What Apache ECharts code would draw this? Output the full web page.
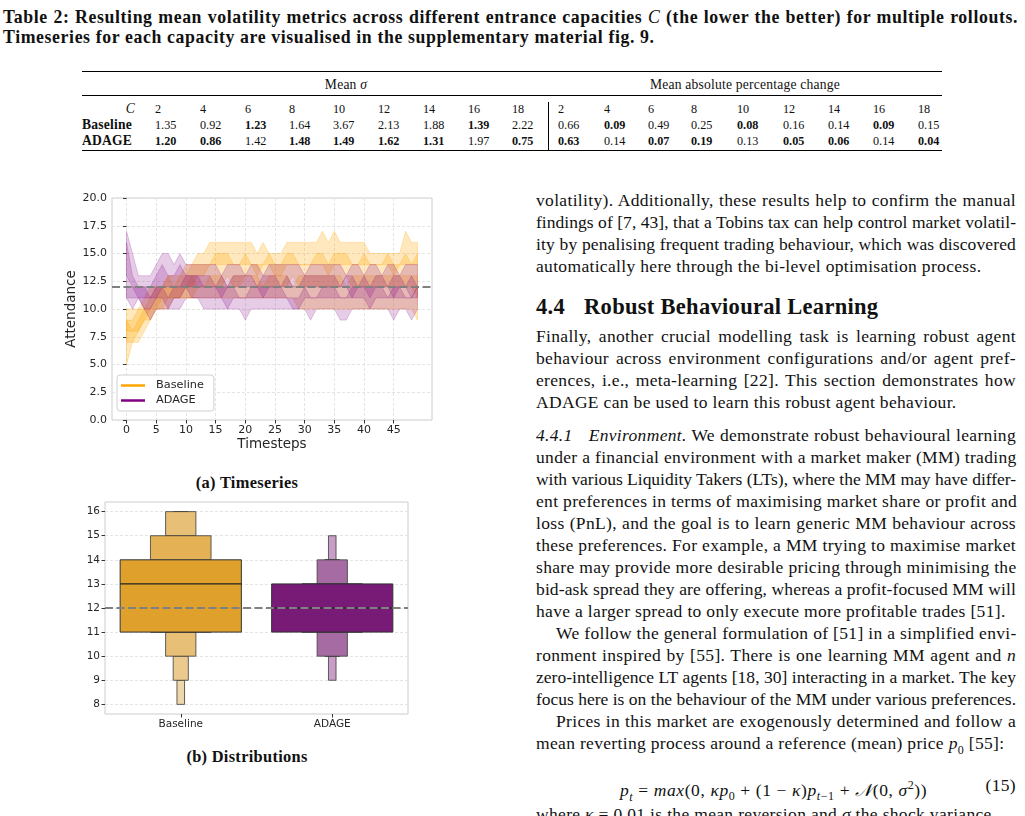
<!DOCTYPE html>
<html>
<head>
<meta charset="utf-8">
<script src="https://cdn.jsdelivr.net/npm/echarts@6/dist/echarts.min.js"></script>
<style>
  body { margin: 0; width: 1025px; height: 816px; overflow: hidden; background: #fff; position: relative;
         font-family: "Liberation Serif", "DejaVu Serif", serif; color: #111; }
  .cap { position: absolute; left: 3px; font-weight: bold; font-size: 17.8px; letter-spacing: 0.6px; line-height: 20px; white-space: nowrap; }
  .j { text-align: justify; text-align-last: justify; }
  .tl { position: absolute; left: 536px; width: 480px; font-size: 17.5px; letter-spacing: 0.33px; line-height: 22px; white-space: nowrap; }
  .ind { left: 556px; width: 460px; }
  .cell { position: absolute; font-size: 12.2px; line-height: 16px; white-space: nowrap; }
  .hd { font-size: 13.6px; letter-spacing: 0.2px; }
  .rule { position: absolute; left: 82px; width: 860px; background: #000; }
  .sub { position: absolute; width: 300px; text-align: center; font-weight: bold; font-size: 16.4px; letter-spacing: 0.3px; line-height: 20px; }
  .sp { display: inline-block; }
</style>
</head>
<body>
<div class="cap j" style="top:7px;width:1015px">Table 2: Resulting mean volatility metrics across different entrance capacities <i style="font-weight:normal">C</i> (the lower the better) for multiple rollouts.</div>
<div class="cap" style="top:27px">Timeseries for each capacity are visualised in the supplementary material fig. 9.</div>

<div class="rule" style="top:71px;height:1.3px"></div>
<div class="rule" style="top:95px;height:0.8px"></div>
<div class="rule" style="top:150px;height:1.3px"></div>
<div style="position:absolute;left:548px;top:102px;width:1px;height:48px;background:#000"></div>
<div class="cell hd" style="left:246px;width:200px;text-align:center;top:77px">Mean <i>σ</i></div>
<div class="cell hd" style="left:595px;width:300px;text-align:center;top:77px">Mean absolute percentage change</div>
<div id="tbl"></div>

<div id="ts" style="position:absolute;left:0;top:180px;width:450px;height:285px"></div>
<div class="sub" style="left:97px;top:473px">(a) Timeseries</div>
<div id="bx" style="position:absolute;left:0;top:495px;width:450px;height:240px"></div>
<div class="sub" style="left:97px;top:747px">(b) Distributions</div>

<div class="tl j" style="top:189px">volatility). Additionally, these results help to confirm the manual</div>
<div class="tl j" style="top:211px">findings of [7, 43], that a Tobins tax can help control market volatil-</div>
<div class="tl j" style="top:233px">ity by penalising frequent trading behaviour, which was discovered</div>
<div class="tl" style="top:255px">automatically here through the bi-level optimisation process.</div>
<div class="tl" style="top:294px;font-size:22.5px;letter-spacing:0.3px;line-height:26px;font-weight:bold">4.4<span class="sp" style="width:19px"></span>Robust Behavioural Learning</div>
<div class="tl j" style="top:325px">Finally, another crucial modelling task is learning robust agent</div>
<div class="tl j" style="top:347px">behaviour across environment configurations and/or agent pref-</div>
<div class="tl j" style="top:369px">erences, i.e., meta-learning [22]. This section demonstrates how</div>
<div class="tl" style="top:391px">ADAGE can be used to learn this robust agent behaviour.</div>
<div class="tl j" style="top:424px"><i>4.4.1</i><span class="sp" style="width:16px"></span><i>Environment.</i> We demonstrate robust behavioural learning</div>
<div class="tl j" style="top:446px">under a financial environment with a market maker (MM) trading</div>
<div class="tl j" style="top:468px">with various Liquidity Takers (LTs), where the MM may have differ-</div>
<div class="tl j" style="top:490px">ent preferences in terms of maximising market share or profit and</div>
<div class="tl j" style="top:512px">loss (PnL), and the goal is to learn generic MM behaviour across</div>
<div class="tl j" style="top:534px">these preferences. For example, a MM trying to maximise market</div>
<div class="tl j" style="top:556px">share may provide more desirable pricing through minimising the</div>
<div class="tl j" style="top:578px">bid-ask spread they are offering, whereas a profit-focused MM will</div>
<div class="tl" style="top:600px">have a larger spread to only execute more profitable trades [51].</div>
<div class="tl ind j" style="top:622px">We follow the general formulation of [51] in a simplified envi-</div>
<div class="tl j" style="top:644px">ronment inspired by [55]. There is one learning MM agent and <i>n</i></div>
<div class="tl j" style="top:666px">zero-intelligence LT agents [18, 30] interacting in a market. The key</div>
<div class="tl j" style="top:688px">focus here is on the behaviour of the MM under various preferences.</div>
<div class="tl ind j" style="top:710px">Prices in this market are exogenously determined and follow a</div>
<div class="tl" style="top:732px">mean reverting process around a reference (mean) price <i>p</i><sub style="font-size:12px">0</sub> [55]:</div>
<div class="tl" style="top:774px;left:620px;width:auto;letter-spacing:0.6px"><i>p<sub style="font-size:12px">t</sub></i> = <i>max</i>(0, <i>κp</i><sub style="font-size:12px">0</sub> + (1 − <i>κ</i>)<i>p</i><sub style="font-size:12px"><i>t</i>−1</sub> + <i>𝒩</i>(0, <i>σ</i><sup style="font-size:12px">2</sup>))</div>
<div class="tl" style="top:774px;text-align:right">(15)</div>
<div class="tl" style="top:803px">where <i>κ</i> = 0.01 is the mean reversion and <i>σ</i> the shock variance.</div>

<script>
// ---- table values ----
const capacities = [2, 4, 6, 8, 10, 12, 14, 16, 18];
const sigmaBaseline = [1.35, 0.92, 1.23, 1.64, 3.67, 2.13, 1.88, 1.39, 2.22];
const sigmaAdage = [1.20, 0.86, 1.42, 1.48, 1.49, 1.62, 1.31, 1.97, 0.75];
const mapcBaseline = [0.66, 0.09, 0.49, 0.25, 0.08, 0.16, 0.14, 0.09, 0.15];
const mapcAdage = [0.63, 0.14, 0.07, 0.19, 0.13, 0.05, 0.06, 0.14, 0.04];

// ---- timeseries (3 rollout bands per method) ----
const timesteps = [0,1,2,3,4,5,6,7,8,9,10,11,12,13,14,15,16,17,18,19,20,21,22,23,24,25,26,27,28,29,30,31,32,33,34,35,36,37,38,39,40,41,42,43,44,45,46,47,48,49];
const xTicks = [0, 5, 10, 15, 20, 25, 30, 35, 40, 45];
const capacityLine = 12;

const baseLo1 = [8,8,8,9,10,10,11,11,11,11,12,12,13,13,14,14,14,14,14,14,14,14,13,14,14,13,13,14,14,14,14,14,14,14,13,14,14,14,14,14,14,14,14,14,14,13,14,14,14,14];
const baseHi1 = [10,10,10,11,12,12,12,13,13,13,14,14,15,15,16,16,16,16,16,16,16,16,15,16,15,15,15,16,16,16,16,16,16,17,16,17,16,16,16,16,16,15,15,15,15,15,15,17,16,16];
const baseLo2 = [7,7,8,9,9,10,10,10,11,11,11,11,12,12,12,12,12,13,12,12,13,13,12,12,12,12,12,12,13,12,12,12,12,12,12,12,12,13,12,12,12,12,12,12,12,12,12,12,12,11];
const baseHi2 = [9,9,10,10,11,12,12,13,12,13,13,14,14,14,14,15,15,15,14,14,15,14,14,14,15,14,14,15,15,14,14,14,15,15,14,15,15,15,14,14,15,14,14,14,15,14,14,15,14,15];
const baseLo3 = [5,7,7,8,9,10,10,11,11,11,11,11,11,11,11,11,11,11,11,11,11,11,11,11,11,11,11,11,11,10,10,10,10,10,10,10,10,10,10,10,10,10,10,10,10,10,10,10,10,9];
const baseHi3 = [9,8,9,10,10,11,12,12,12,12,12,13,12,12,13,13,13,12,13,13,13,13,13,12,13,13,13,13,12,13,13,13,13,13,13,13,13,12,13,13,13,13,13,13,13,13,13,13,13,13];

const adageLo1 = [13,12,11,11,11,11,12,12,12,12,12,12,12,12,12,12,11,12,12,12,12,12,12,11,12,12,12,12,12,12,12,12,12,12,12,12,12,12,11,12,12,11,12,12,12,11,12,12,11,12];
const adageHi1 = [17,15,13,13,13,14,15,15,14,15,14,14,14,14,14,14,13,14,14,14,13,14,14,13,14,14,14,14,14,14,13,14,14,14,14,14,14,13,14,14,13,14,14,13,14,14,13,14,14,14];
const adageLo2 = [11,10,11,10,10,11,11,10,11,11,12,11,11,11,11,11,11,10,11,11,11,11,11,11,11,11,11,11,10,10,11,11,11,11,11,11,11,11,11,11,11,10,11,11,11,11,11,11,11,11];
const adageHi2 = [16,13,12,12,12,13,14,13,13,14,13,13,13,13,13,12,13,12,13,13,13,13,12,13,13,13,12,13,12,12,13,13,13,13,13,13,12,13,13,12,13,12,13,13,12,13,13,12,13,12];
const adageLo3 = [11,11,11,10,9,10,10,10,10,10,11,11,11,10,10,10,10,10,10,10,9,10,10,10,10,10,10,10,10,10,10,9,10,10,10,10,9,9,10,10,10,10,10,10,10,9,10,10,9,10];
const adageHi3 = [12,12,12,12,11,12,12,11,12,12,13,13,13,12,12,12,12,12,12,11,11,12,12,12,12,12,12,11,11,11,12,11,11,12,12,12,11,11,12,12,12,12,12,12,11,12,12,11,11,12];

// ---- distributions (boxen levels: lower / upper quantile per level) ----
const groups = ['Baseline', 'ADAGE'];
const baselineLower = [11, 11, 10, 9, 8];
const baselineUpper = [14, 15, 16, 16, 16];
const adageLower = [11, 11, 10, 10, 9];
const adageUpper = [13, 13, 14, 14, 15];
const medians = [13, 12];
const boxTicks = [8, 9, 10, 11, 12, 13, 14, 15, 16];

// 两端对齐的行：放不下时收紧字距
document.querySelectorAll('.tl').forEach(el => {
  let ls = parseFloat(getComputedStyle(el).letterSpacing) || 0;
  while (el.scrollWidth > el.clientWidth + 1 && ls > -1) {
    ls -= 0.05;
    el.style.letterSpacing = ls + 'px';
  }
});

// table
const sigmaX = [155, 200, 245, 289, 333, 378, 423, 468, 512];
const mapcX = [558, 604, 648, 691, 737, 783, 828, 873, 918];
let html = '<div class="cell hd" style="left:115px;top:101px;width:20px;text-align:right"><i>C</i></div>'
  + '<div class="cell hd" style="left:82px;top:117px;font-weight:bold">Baseline</div>'
  + '<div class="cell hd" style="left:82px;top:133px;font-weight:bold">ADAGE</div>';
const cell = (x, y, v, bold) => `<div class="cell" style="left:${x}px;top:${y}px;${bold ? 'font-weight:bold' : ''}">${v}</div>`;
capacities.forEach((c, i) => {
  html += cell(sigmaX[i], 101, c) + cell(mapcX[i], 101, c);
  html += cell(sigmaX[i], 117, sigmaBaseline[i].toFixed(2), sigmaBaseline[i] < sigmaAdage[i]);
  html += cell(sigmaX[i], 133, sigmaAdage[i].toFixed(2), sigmaAdage[i] < sigmaBaseline[i]);
  html += cell(mapcX[i], 117, mapcBaseline[i].toFixed(2), mapcBaseline[i] < mapcAdage[i]);
  html += cell(mapcX[i], 133, mapcAdage[i].toFixed(2), mapcAdage[i] < mapcBaseline[i]);
});
document.getElementById('tbl').innerHTML = html;

const font = 'DejaVu Sans';
const ORANGE = 'rgba(255,165,0,0.26)';
const PURPLE = 'rgba(128,0,128,0.2)';

// 每个 rollout 一条带：下沿 lo 到上沿 hi 之间填充
const band = (name, lo, hi, color) => ({
  name, type: 'custom', silent: true,
  data: timesteps.map((t, i) => [t, lo[i], hi[i]]),
  encode: { x: 0, y: [1, 2] },
  renderItem: (params, api) => {
    if (params.dataIndex !== 0) return null;
    const top = timesteps.map((t, i) => api.coord([t, hi[i]]));
    const bot = timesteps.map((t, i) => api.coord([t, lo[i]])).reverse();
    return {
      type: 'polygon',
      shape: { points: top.concat(bot) },
      style: { fill: color, stroke: color, lineWidth: 1 }
    };
  }
});

const tsChart = echarts.init(document.getElementById('ts'));
tsChart.setOption({
  animation: false,
  grid: { left: 112, top: 18, width: 320, height: 222, show: true, borderColor: '#cccccc', borderWidth: 1, outerBoundsMode: 'none' },
  legend: {
    left: 117, top: 195, orient: 'vertical', selectedMode: false,
    backgroundColor: '#fff', borderColor: '#d0d0d0', borderWidth: 1, borderRadius: 3,
    padding: [5, 10, 5, 4], itemGap: 4, itemWidth: 24, itemHeight: 2.5,
    icon: 'rect', textStyle: { fontFamily: font, fontSize: 11.3, color: '#262626', padding: [0, 0, 0, 6] },
    data: [
      { name: 'Baseline', itemStyle: { color: '#FFA500' } },
      { name: 'ADAGE', itemStyle: { color: '#800080' } }
    ]
  },
  xAxis: {
    type: 'value', min: -2.45, max: 51.45,
    name: 'Timesteps', nameLocation: 'middle', nameGap: 17, nameMoveOverlap: false,
    nameTextStyle: { fontFamily: font, fontSize: 13.5, color: '#262626' },
    axisLine: { show: false },
    axisTick: { show: true, length: 3.5, customValues: xTicks, lineStyle: { color: '#333' } },
    axisLabel: { customValues: xTicks, fontFamily: font, fontSize: 11, color: '#262626', margin: 5 },
    splitLine: { show: true, lineStyle: { color: '#e4e4e4', type: [3, 2] } }
  },
  yAxis: {
    type: 'value', min: 0, max: 20, interval: 2.5,
    name: 'Attendance', nameLocation: 'middle', nameGap: 34, nameMoveOverlap: false,
    nameTextStyle: { fontFamily: font, fontSize: 13.5, color: '#262626' },
    axisLine: { show: false },
    axisTick: { show: true, length: 3.5, lineStyle: { color: '#333' } },
    axisLabel: { formatter: v => v.toFixed(1), fontFamily: font, fontSize: 11, color: '#262626', margin: 5 },
    splitLine: { show: true, lineStyle: { color: '#e4e4e4', type: [3, 2] } }
  },
  series: [
    band('Baseline', baseLo1, baseHi1, ORANGE),
    band('Baseline', baseLo2, baseHi2, ORANGE),
    band('Baseline', baseLo3, baseHi3, ORANGE),
    band('ADAGE', adageLo1, adageHi1, PURPLE),
    band('ADAGE', adageLo2, adageHi2, PURPLE),
    band('ADAGE', adageLo3, adageHi3, PURPLE),
    {
      type: 'line', data: [], silent: true, z: 10,
      markLine: {
        silent: true, symbol: 'none', label: { show: false },
        lineStyle: { color: '#808080', width: 2, type: [8, 3.5] },
        data: [{ yAxis: capacityLine }]
      }
    }
  ]
});

// boxen plot
const levelWidths = [0.8, 0.4, 0.2, 0.1, 0.05];
const fills = [
  ['#DFA12C', '#E4B255', '#E8BF77', '#ECCA8E', '#F0D7A9'],
  ['#771B76', '#8E3E8B', '#A56BA2', '#B684B3', '#C89DC6']
];
const lowers = [baselineLower, adageLower];
const uppers = [baselineUpper, adageUpper];
const boxItems = [];
groups.forEach((g, gi) => {
  for (let lvl = 4; lvl >= 0; lvl--) {
    const inner = lvl === 0 ? 0 : lvl - 1;
    boxItems.push([gi, lvl, lowers[gi][lvl], lowers[gi][inner], uppers[gi][inner], uppers[gi][lvl], medians[gi]]);
  }
});

const bxChart = echarts.init(document.getElementById('bx'));
bxChart.setOption({
  animation: false,
  grid: { left: 105, top: 7, width: 303, height: 212, show: true, borderColor: '#cccccc', borderWidth: 1, outerBoundsMode: 'none' },
  xAxis: {
    type: 'category', data: groups,
    axisLine: { show: false },
    axisTick: { show: true, alignWithLabel: true, length: 3.5, lineStyle: { color: '#333' } },
    axisLabel: { fontFamily: font, fontSize: 10.5, color: '#262626', margin: 5 },
    splitLine: { show: false }
  },
  yAxis: {
    type: 'value', min: 7.6, max: 16.4,
    axisLine: { show: false },
    axisTick: { show: true, length: 3.5, customValues: boxTicks, lineStyle: { color: '#333' } },
    axisLabel: { customValues: boxTicks, fontFamily: font, fontSize: 10.5, color: '#262626', margin: 5 },
    splitLine: { show: true, lineStyle: { color: '#e4e4e4', type: [3, 2] } }
  },
  series: [
    {
      type: 'custom', silent: true, z: 3,
      encode: { x: 0, y: [2, 5] },
      data: boxItems,
      renderItem: (params, api) => {
        const gi = api.value(0), lvl = api.value(1);
        const cx = api.coord([gi, 0])[0];
        const w = api.size([1, 0])[0] * levelWidths[lvl];
        const segs = lvl === 0 ? [[api.value(2), api.value(5)]] : [[api.value(2), api.value(3)], [api.value(4), api.value(5)]];
        const style = { fill: fills[gi][lvl], stroke: lvl === 0 ? '#333' : 'rgba(60,60,60,0.8)', lineWidth: 1 };
        const children = segs.map(([a, b]) => {
          const yTop = api.coord([gi, b])[1], yBot = api.coord([gi, a])[1];
          return { type: 'rect', shape: { x: cx - w / 2, y: yTop, width: w, height: yBot - yTop }, style };
        });
        if (lvl === 0) {
          const ym = api.coord([gi, api.value(6)])[1];
          children.push({ type: 'line', shape: { x1: cx - w / 2, y1: ym, x2: cx + w / 2, y2: ym }, style: { stroke: '#222', lineWidth: 1.2 } });
        }
        return { type: 'group', children };
      }
    },
    {
      type: 'line', data: [], silent: true, z: 10,
      markLine: {
        silent: true, symbol: 'none', label: { show: false },
        lineStyle: { color: '#808080', width: 2, type: [8, 3.5] },
        data: [{ yAxis: capacityLine }]
      }
    }
  ]
});
</script>
</body>
</html>
